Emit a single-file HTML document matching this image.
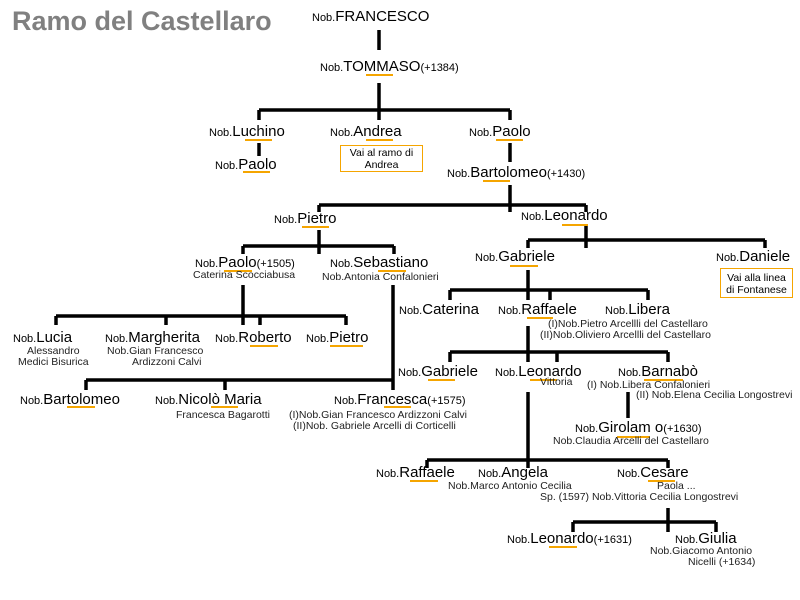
<!DOCTYPE html>
<html><head><meta charset="utf-8"><style>
body{margin:0;width:800px;height:600px;background:#fff;position:relative;overflow:hidden;font-family:"Liberation Sans",sans-serif;color:#000}
.t{position:absolute;white-space:nowrap;line-height:1}
.n{font-size:15px}
.n small{font-size:11px}
.s{font-size:10.5px;color:#222}
.u{position:absolute;height:2px;background:#f5a500}
.box{position:absolute;border:1px solid #f5a500;font-size:10.5px;text-align:center;line-height:12px;box-sizing:border-box;padding-top:1px}
svg{position:absolute;left:0;top:0}
</style></head><body>
<svg width="800" height="600" stroke="#000" stroke-width="3.5" fill="none">
<path d="M379 30V50M379 83V120M259 110H510M259 110V120M510 110V120M259 143V156M510 143V162M510 185V212M319 205H586M319 205V212M586 205V212M319 230V254M243 246H394M243 246V254M394 246V254M586 226V248M528 240H765M528 240V248M765 240V248M243 285V325M56 316H346M56 316V325M166 316V325M260 316V325M346 316V325M393 285V390M86 380H393M86 380V390M225 380V390M528 270V300M450 290H648M450 290V300M550 290V300M648 290V300M528 326V362M450 352H668M450 352V362M557 352V362M668 352V362M628 392V418M528 392V468M427 460H668M427 460V468M668 460V468M668 508V532M573 522H716M573 522V532M716 522V532"/>
</svg>
<div class="t" style="left:12px;top:8px;font-size:27px;font-weight:bold;color:#808080">Ramo del Castellaro</div>

<div class="t n" style="left:312px;top:9px"><small>Nob.</small>FRANCESCO</div>
<div class="t n" style="left:320px;top:59px"><small>Nob.</small>TOMMASO<small>(+1384)</small></div><div class="u" style="left:366px;top:74px;width:27px"></div>

<div class="t n" style="left:209px;top:124px"><small>Nob.</small>Luchino</div><div class="u" style="left:245px;top:139px;width:27px"></div>
<div class="t n" style="left:215px;top:157px"><small>Nob.</small>Paolo</div><div class="u" style="left:243px;top:171px;width:27px"></div>
<div class="t n" style="left:330px;top:124px"><small>Nob.</small>Andrea</div><div class="u" style="left:366px;top:139px;width:27px"></div>
<div class="box" style="left:340px;top:145px;width:83px;height:27px">Vai al ramo di<br>Andrea</div>
<div class="t n" style="left:469px;top:124px"><small>Nob.</small>Paolo</div><div class="u" style="left:496px;top:139px;width:27px"></div>
<div class="t n" style="left:447px;top:165px"><small>Nob.</small>Bartolomeo<small>(+1430)</small></div><div class="u" style="left:483px;top:180px;width:27px"></div>

<div class="t n" style="left:274px;top:211px"><small>Nob.</small>Pietro</div><div class="u" style="left:302px;top:226px;width:27px"></div>
<div class="t n" style="left:521px;top:208px"><small>Nob.</small>Leonardo</div><div class="u" style="left:562px;top:224px;width:26px"></div>

<div class="t n" style="left:195px;top:255px"><small>Nob.</small>Paolo<small>(+1505)</small></div><div class="u" style="left:224px;top:270px;width:28px"></div>
<div class="t s" style="left:193px;top:270px">Caterina Scocciabusa</div>
<div class="t n" style="left:330px;top:255px"><small>Nob.</small>Sebastiano</div><div class="u" style="left:378px;top:270px;width:28px"></div>
<div class="t s" style="left:322px;top:272px">Nob.Antonia Confalonieri</div>

<div class="t n" style="left:13px;top:330px"><small>Nob.</small>Lucia</div>
<div class="t s" style="left:27px;top:346px">Alessandro</div>
<div class="t s" style="left:18px;top:357px">Medici Bisurica</div>
<div class="t n" style="left:105px;top:330px"><small>Nob.</small>Margherita</div>
<div class="t s" style="left:107px;top:346px">Nob.Gian Francesco</div>
<div class="t s" style="left:132px;top:357px">Ardizzoni Calvi</div>
<div class="t n" style="left:215px;top:330px"><small>Nob.</small>Roberto</div><div class="u" style="left:250px;top:345px;width:28px"></div>
<div class="t n" style="left:306px;top:330px"><small>Nob.</small>Pietro</div><div class="u" style="left:330px;top:345px;width:33px"></div>

<div class="t n" style="left:20px;top:392px"><small>Nob.</small>Bartolomeo</div><div class="u" style="left:67px;top:406px;width:28px"></div>
<div class="t n" style="left:155px;top:392px"><small>Nob.</small>Nicolò Maria</div><div class="u" style="left:211px;top:406px;width:27px"></div>
<div class="t s" style="left:176px;top:410px">Francesca Bagarotti</div>
<div class="t n" style="left:334px;top:392px"><small>Nob.</small>Francesca<small>(+1575)</small></div><div class="u" style="left:384px;top:406px;width:27px"></div>
<div class="t s" style="left:289px;top:410px">(I)Nob.Gian Francesco Ardizzoni Calvi</div>
<div class="t s" style="left:293px;top:421px">(II)Nob. Gabriele Arcelli di Corticelli</div>

<div class="t n" style="left:475px;top:249px"><small>Nob.</small>Gabriele</div><div class="u" style="left:510px;top:265px;width:28px"></div>
<div class="t n" style="left:716px;top:249px"><small>Nob.</small>Daniele</div>
<div class="box" style="left:720px;top:268px;width:73px;height:30px;padding-top:3px">Vai alla linea<br>di Fontanese</div>

<div class="t n" style="left:399px;top:302px"><small>Nob.</small>Caterina</div>
<div class="t n" style="left:498px;top:302px"><small>Nob.</small>Raffaele</div><div class="u" style="left:527px;top:317px;width:26px"></div>
<div class="t n" style="left:605px;top:302px"><small>Nob.</small>Libera</div>
<div class="t s" style="left:548px;top:319px">(I)Nob.Pietro Arcellli del Castellaro</div>
<div class="t s" style="left:540px;top:330px">(II)Nob.Oliviero Arcellli del Castellaro</div>

<div class="t n" style="left:398px;top:364px"><small>Nob.</small>Gabriele</div><div class="u" style="left:428px;top:379px;width:27px"></div>
<div class="t n" style="left:495px;top:364px"><small>Nob.</small>Leonardo</div><div class="u" style="left:530px;top:379px;width:27px"></div>
<div class="t s" style="left:540px;top:377px">Vittoria</div>
<div class="t n" style="left:618px;top:364px"><small>Nob.</small>Barnabò</div><div class="u" style="left:644px;top:379px;width:39px"></div>
<div class="t s" style="left:587px;top:380px">(I) Nob.Libera Confalonieri</div>
<div class="t s" style="left:636px;top:390px">(II) Nob.Elena Cecilia Longostrevi</div>

<div class="t n" style="left:575px;top:420px"><small>Nob.</small>Girolam o<small>(+1630)</small></div><div class="u" style="left:617px;top:436px;width:33px"></div>
<div class="t s" style="left:553px;top:436px">Nob.Claudia Arcelli del Castellaro</div>

<div class="t n" style="left:376px;top:465px"><small>Nob.</small>Raffaele</div><div class="u" style="left:410px;top:480px;width:28px"></div>
<div class="t n" style="left:478px;top:465px"><small>Nob.</small>Angela</div>
<div class="t s" style="left:448px;top:481px">Nob.Marco Antonio Cecilia</div>
<div class="t s" style="left:540px;top:492px">Sp. (1597) Nob.Vittoria Cecilia Longostrevi</div>
<div class="t n" style="left:617px;top:465px"><small>Nob.</small>Cesare</div><div class="u" style="left:648px;top:480px;width:27px"></div>
<div class="t s" style="left:657px;top:481px">Paola ...</div>

<div class="t n" style="left:507px;top:531px"><small>Nob.</small>Leonardo<small>(+1631)</small></div><div class="u" style="left:549px;top:546px;width:28px"></div>
<div class="t n" style="left:675px;top:531px"><small>Nob.</small>Giulia</div>
<div class="t s" style="left:650px;top:546px">Nob.Giacomo Antonio</div>
<div class="t s" style="left:688px;top:557px">Nicelli (+1634)</div>
</body></html>
